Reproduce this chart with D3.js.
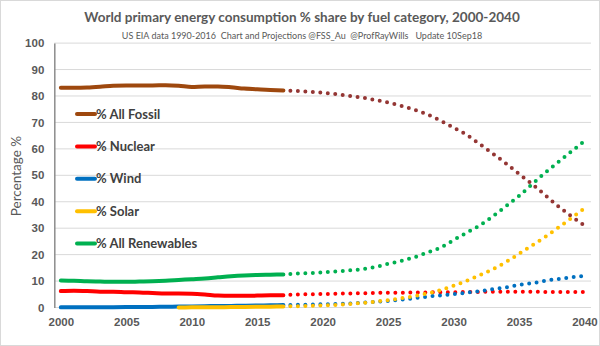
<!DOCTYPE html>
<html>
<head>
<meta charset="utf-8">
<script src="https://cdn.jsdelivr.net/npm/d3@7"></script>
<style>
  body { margin: 0; background: #fff; }
  svg { font-family: Lato, "Open Sans", sans-serif; }
  .pre { white-space: pre; }
</style>
</head>
<body>
<div class="chart"></div>
<script>
// years 2000-2017 are data, 2017-2040 are projections (dotted)
const histYears = d3.range(2000, 2018);
const projYears = d3.range(2017, 2041);
const allYears = d3.range(2000, 2041);
const xTicks = [2000, 2005, 2010, 2015, 2020, 2025, 2030, 2035, 2040];
const yTicks = [0, 10, 20, 30, 40, 50, 60, 70, 80, 90, 100];

const fossilHist = [83.1, 83.1, 83.2, 83.5, 83.9, 84.0, 84.0, 84.0, 84.1, 83.9, 83.4, 83.6, 83.6, 83.3, 82.8, 82.5, 82.3, 82.1];
const nuclearHist = [6.2, 6.3, 6.2, 6.0, 6.0, 5.8, 5.7, 5.5, 5.3, 5.3, 5.2, 4.9, 4.5, 4.4, 4.4, 4.5, 4.6, 4.6];
const windHist = [0.05, 0.07, 0.09, 0.1, 0.12, 0.15, 0.18, 0.22, 0.28, 0.35, 0.42, 0.5, 0.55, 0.6, 0.68, 0.75, 0.82, 0.9];
const solarHistYears = d3.range(2009, 2018);
const solarHist = [0.02, 0.05, 0.08, 0.12, 0.16, 0.2, 0.26, 0.33, 0.4];
const renewHist = [10.2, 10.1, 9.9, 9.8, 9.7, 9.7, 9.8, 9.9, 10.1, 10.4, 10.7, 11.0, 11.4, 11.8, 12.1, 12.3, 12.4, 12.5];

const fossilProj = [82.1, 81.9, 81.6, 81.2, 80.7, 80.1, 79.4, 78.5, 77.5, 76.3, 74.8, 73.0, 70.7, 68.0, 65.3, 61.8, 58.2, 54.5, 50.5, 46.7, 42.5, 38.3, 34.5, 31.0];
const nuclearProj = [4.6, 4.9, 5.0, 5.1, 5.2, 5.3, 5.4, 5.5, 5.6, 5.6, 5.7, 5.7, 5.8, 5.8, 5.9, 5.9, 6.0, 6.0, 6.0, 6.0, 5.9, 5.9, 5.9, 5.9];
const windProj = [0.9, 1.0, 1.1, 1.2, 1.3, 1.5, 1.8, 2.1, 2.5, 3.0, 3.5, 4.1, 4.6, 5.1, 5.6, 6.2, 6.9, 7.6, 8.5, 9.2, 10.1, 10.8, 11.4, 12.0];
const solarProj = [0.4, 0.5, 0.6, 0.8, 1.0, 1.3, 1.7, 2.2, 2.8, 3.5, 4.3, 5.3, 6.6, 8.2, 10.1, 12.2, 14.5, 17.2, 20.3, 23.5, 26.7, 30.2, 33.8, 37.5];
const renewProj = [12.5, 12.8, 13.0, 13.3, 13.6, 14.0, 14.5, 15.3, 16.5, 17.6, 19.0, 20.8, 22.6, 25.5, 28.3, 31.0, 34.5, 38.3, 42.2, 46.6, 51.0, 55.0, 59.0, 63.0];

const legendNames = ["% All Fossil", "% Nuclear", "% Wind", "% Solar", "% All Renewables"];

const width = 600, height = 346;
const svg = d3.select("div.chart").append("svg")
    .attr("width", width).attr("height", height);

svg.append("rect")
    .attr("x", 0.5).attr("y", 0.5)
    .attr("width", width - 1).attr("height", height - 1)
    .attr("fill", "#fff").attr("stroke", "#d9d9d9");

let x = d3.scalePoint().domain(allYears).range([54.3, 591]).padding(0.5);
let y = d3.scaleLinear().domain([0, 100]).range([307.5, 43.1]);

// gridlines
svg.append("g")
    .selectAll("line")
    .data(yTicks)
    .enter()
    .append("line")
    .attr("x1", 54.3).attr("x2", 591)
    .attr("y1", d => y(d)).attr("y2", d => y(d))
    .attr("stroke", "#d9d9d9").attr("stroke-width", 1);

// y axis
let yAxis = svg.append("g")
    .attr("transform", "translate(54.3,0)")
    .call(d3.axisLeft(y).tickValues(yTicks).tickSize(0).tickPadding(10));
yAxis.select(".domain").attr("stroke", "#8c8c8c").attr("stroke-width", 1.5);
yAxis.selectAll("text")
    .attr("fill", "#595959").attr("font-size", "11.5px").attr("font-weight", "bold");

// x axis
let xAxis = svg.append("g")
    .attr("transform", `translate(0,${y(0)})`)
    .call(d3.axisBottom(x).tickValues(xTicks).tickSize(0).tickPadding(10));
xAxis.select(".domain").remove();
xAxis.selectAll("text")
    .attr("fill", "#595959").attr("font-size", "11.5px").attr("font-weight", "bold");

const line = d3.line()
    .x(d => x(d[0]))
    .y(d => y(d[1]))
    .curve(d3.curveMonotoneX);

const series = [
    { hy: histYears, h: fossilHist, p: fossilProj, c: "#9e480e", pc: "#943634" },
    { hy: histYears, h: nuclearHist, p: nuclearProj, c: "#ff0000", pc: "#ff0000" },
    { hy: histYears, h: windHist, p: windProj, c: "#0070c0", pc: "#0070c0" },
    { hy: solarHistYears, h: solarHist, p: solarProj, c: "#ffc000", pc: "#ffc000" },
    { hy: histYears, h: renewHist, p: renewProj, c: "#00b050", pc: "#00b050" }
];

series.forEach(s => {
    svg.append("path")
        .datum(s.p.map((v, i) => [projYears[i], v]))
        .attr("d", line)
        .attr("fill", "none")
        .attr("stroke", s.pc)
        .attr("stroke-width", 4)
        .attr("stroke-linecap", "round")
        .attr("stroke-dasharray", "0 7.5")
        .attr("stroke-dashoffset", -7);
});

series.forEach(s => {
    svg.append("path")
        .datum(s.h.map((v, i) => [s.hy[i], v]))
        .attr("d", line)
        .attr("fill", "none")
        .attr("stroke", s.c)
        .attr("stroke-width", 4)
        .attr("stroke-linecap", "round");
});

// legend
let legend = svg.append("g")
    .selectAll("g")
    .data(legendNames)
    .enter()
    .append("g")
    .attr("transform", (d, i) => `translate(77,${114 + i * 32.4})`);

legend.append("line")
    .attr("x1", 0).attr("x2", 18)
    .attr("stroke", (d, i) => series[i].c)
    .attr("stroke-width", 4)
    .attr("stroke-linecap", "round");

legend.append("text")
    .attr("x", 19).attr("y", 4.5)
    .attr("fill", "#404040")
    .attr("font-size", "13px")
    .attr("font-weight", "bold")
    .text(d => d);

// titles
svg.append("text")
    .attr("x", 302).attr("y", 22)
    .attr("text-anchor", "middle")
    .attr("fill", "#595959")
    .attr("font-size", "13.5px")
    .attr("font-weight", "bold")
    .text("World primary energy consumption % share by fuel category, 2000-2040");

svg.append("text")
    .attr("class", "pre")
    .attr("x", 302).attr("y", 38.5)
    .attr("text-anchor", "middle")
    .attr("fill", "#595959")
    .attr("font-size", "9px")
    .text("US EIA data 1990-2016  Chart and Projections @FSS_Au  @ProfRayWills   Update 10Sep18");

svg.append("text")
    .attr("transform", "translate(21,176) rotate(-90)")
    .attr("text-anchor", "middle")
    .attr("fill", "#595959")
    .attr("font-size", "13.5px")
    .text("Percentage %");
</script>
</body>
</html>
